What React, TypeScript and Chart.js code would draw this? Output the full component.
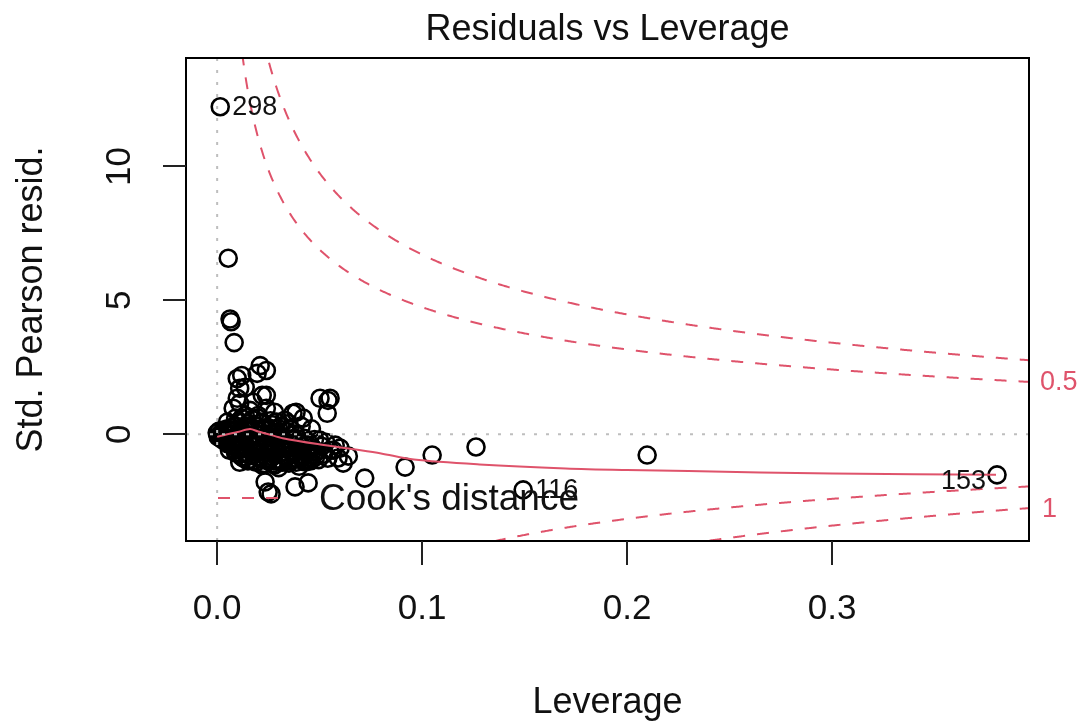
import React, { useEffect, useRef } from "react";
import { Chart, registerables } from "chart.js";

Chart.register(...registerables);

// ---- data ----
const leverage = [
  // outliers
  0.0015, 0.0054, 0.0063, 0.0068, 0.0083,
  // upper scatter
  0.021, 0.024, 0.0195, 0.0098, 0.012, 0.011, 0.0137, 0.024, 0.0098, 0.011, 0.0176, 0.024, 0.0078, 0.022, 0.016,
  0.0137, 0.02, 0.028, 0.033, 0.037, 0.042, 0.0537, 0.0385, 0.0502, 0.0541, 0.0551,
  0.005, 0.009, 0.018, 0.026, 0.031, 0.029, 0.035, 0.041, 0.046,
  // dense core, low leverage
  0.0, 0.001, 0.001, 0.002, 0.002, 0.003, 0.003, 0.004, 0.004, 0.005, 0.005, 0.006, 0.006, 0.007, 0.007, 0.008, 0.008,
  0.009, 0.009, 0.01, 0.01, 0.011, 0.011, 0.012, 0.012, 0.013, 0.013, 0.014, 0.014, 0.015, 0.015, 0.016, 0.016,
  0.017, 0.017, 0.018, 0.018, 0.019, 0.019, 0.02, 0.02,
  0.021, 0.021, 0.022, 0.022, 0.023, 0.023, 0.024, 0.024, 0.025, 0.025, 0.026, 0.026, 0.027, 0.027, 0.028, 0.028,
  0.029, 0.03, 0.03, 0.031, 0.032, 0.032, 0.033, 0.034, 0.034, 0.035, 0.036, 0.037, 0.038, 0.038, 0.039, 0.04,
  0.041, 0.042, 0.043, 0.044, 0.045,
  0.0005, 0.0015, 0.0025, 0.0035, 0.0045, 0.0055, 0.0065, 0.0075, 0.0085, 0.0095,
  0.0105, 0.0115, 0.0125, 0.0135, 0.0145, 0.0155, 0.0165, 0.0175, 0.0185, 0.0195,
  0.0205, 0.0215, 0.0225, 0.0235, 0.0245, 0.0255, 0.0265, 0.0275, 0.0285, 0.0295,
  0.0305, 0.0315, 0.0325, 0.0335, 0.0345, 0.0355, 0.0365, 0.0375, 0.0385, 0.0395,
  0.0405, 0.0415, 0.0425, 0.0435, 0.0445, 0.0455, 0.0465, 0.0475, 0.0485, 0.0495,
  0.051, 0.052, 0.053, 0.054, 0.055,
  0.006, 0.009, 0.012, 0.015, 0.019, 0.023, 0.027, 0.031, 0.035, 0.039, 0.044, 0.048,
  // right edge of the core
  0.0566, 0.059, 0.0615, 0.0576, 0.05, 0.047, 0.043, 0.06, 0.064,
  // lower scatter and high leverage
  0.011, 0.022, 0.03, 0.04, 0.0234, 0.0249, 0.0263, 0.038, 0.0444, 0.072, 0.0917, 0.1049, 0.1263, 0.2098, 0.1493,
  0.3805,
];

const stdResid = [
  12.23, 6.57, 4.3, 4.2, 3.42,
  2.56, 2.38, 2.27, 2.08, 2.19, 1.71, 1.75, 1.45, 1.34, 1.15, 1.19, 0.97, 0.97, 1.45, 0.89,
  0.7, 0.6, 0.82, 0.52, 0.78, 0.6, 0.78, 0.82, 1.34, 1.26, 1.34,
  0.45, 0.6, 0.35, 0.5, 0.3, 0.45, 0.4, 0.3, 0.2,
  0.05, -0.05, 0.12, -0.15, 0.02, 0.15, -0.1, -0.25, 0.05, 0.2, -0.35, -0.05, 0.1, -0.2, 0.25, -0.45, 0.0,
  -0.6, 0.3, -0.15, 0.45, -0.75, 0.1, -0.4, 0.6, -0.9, 0.2, -0.55, 0.0, 0.4, -0.25, -0.8, 0.15,
  -0.45, 0.55, -1.0, -0.1, 0.3, -0.65, -0.3, 0.7,
  -0.9, 0.1, -0.5, 0.45, -1.1, -0.2, -0.7, 0.25, -0.35, -1.0, 0.0, -0.6, -0.85, 0.35, -0.45, -1.15,
  -0.15, -0.75, 0.2, -0.5, -1.05, -0.25, -0.8, 0.1, -0.55, -1.0, -0.35, -0.7, -0.9, 0.0, -0.5, -0.2,
  -0.75, -1.0, -0.4, -0.6, -0.85,
  -0.1, 0.0, -0.2, 0.1, -0.3, 0.0, -0.4, 0.15, -0.25, -0.5,
  -0.3, -0.55, 0.05, -0.7, 0.3, -0.95, -0.15, -0.6, 0.2, -0.85,
  -0.05, -0.75, 0.2, -0.45, -0.9, 0.15, -0.3, -1.0, -0.6, 0.05,
  -0.95, -0.1, -0.65, -0.4, -0.85, 0.2, -0.6, -0.15, -1.05, -0.35,
  -0.55, -0.9, -0.15, -0.7, -0.3, -1.0, -0.5, -0.2, -0.65, -0.95,
  -0.45, -0.75, -0.3, -0.9, -0.6,
  -0.6, -0.7, -0.85, -1.0, -1.05, -0.95, -1.1, -0.98, -1.08, -0.92, -1.0, -0.85,
  -0.6, -0.89, -1.08, -0.41, -0.22, -0.78, -1.04, -0.52, -0.82,
  -1.05, -1.15, -1.25, -1.2, -1.78, -2.16, -2.23, -1.97, -1.82, -1.64, -1.23, -0.78, -0.48, -0.78, -2.08,
  -1.52,
];

// smoother (red solid line)
const smoothLev = [0.0, 0.005, 0.01, 0.016, 0.02, 0.025, 0.032, 0.049, 0.07, 0.08, 0.096, 0.128, 0.17, 0.2, 0.23, 0.3, 0.38];
const smoothRes = [-0.1, 0.0, 0.08, 0.19, 0.1, 0.0, -0.15, -0.37, -0.6, -0.72, -0.95, -1.13, -1.28, -1.34, -1.38, -1.47, -1.52];

// labelled observations
const idLabels = ["298", "116", "153"];
const idLev = [0.0015, 0.1493, 0.3805];
const idRes = [12.23, -2.08, -1.52];

// Cook's distance contours
const cookLevels = [0.5, 1];
const nParams = 5;

const xTicks = [0, 0.1, 0.2, 0.3];
const xTickLabels = ["0.0", "0.1", "0.2", "0.3"];
const yTicks = [0, 5, 10];
const yTickLabels = ["0", "5", "10"];

const X_MIN = -0.0152;
const X_MAX = 0.3961;
const Y_MIN = -3.99;
const Y_MAX = 14.05;

const RED = "#DF536B";
const FONT = '"Liberation Sans", Arial, Helvetica, sans-serif';

const decorPlugin = {
  id: "rDecor",
  afterDatasetsDraw(chart: any) {
    const { ctx, chartArea: a, scales } = chart;
    const x = scales.x;
    const y = scales.y;
    ctx.save();
    ctx.beginPath();
    ctx.rect(a.left, a.top, a.right - a.left, a.bottom - a.top);
    ctx.clip();

    // Cook's distance contours
    ctx.strokeStyle = RED;
    ctx.lineWidth = 2;
    ctx.setLineDash([12, 12]);
    const hStart = 0.004;
    const steps = 800;
    cookLevels.forEach((lv) => {
      [1, -1].forEach((s) => {
        ctx.beginPath();
        for (let i = 0; i <= steps; i++) {
          const h = hStart + ((X_MAX - hStart) * i) / steps;
          const v = s * Math.sqrt((lv * nParams * (1 - h)) / h);
          const px = x.getPixelForValue(h);
          const py = y.getPixelForValue(v);
          if (i === 0) ctx.moveTo(px, py);
          else ctx.lineTo(px, py);
        }
        ctx.stroke();
      });
    });

    // zero reference lines
    ctx.strokeStyle = "#BEBEBE";
    ctx.lineWidth = 2;
    ctx.setLineDash([3, 9]);
    const y0 = y.getPixelForValue(0);
    const x0 = x.getPixelForValue(0);
    ctx.beginPath();
    ctx.moveTo(a.left, y0);
    ctx.lineTo(a.right, y0);
    ctx.moveTo(x0, a.top);
    ctx.lineTo(x0, a.bottom);
    ctx.stroke();
    ctx.restore();
  },
  afterDraw(chart: any) {
    const { ctx, chartArea: a, scales } = chart;
    const x = scales.x;
    const y = scales.y;
    ctx.save();
    // box
    ctx.strokeStyle = "#000";
    ctx.lineWidth = 2;
    ctx.setLineDash([]);
    ctx.strokeRect(a.left, a.top, a.right - a.left, a.bottom - a.top);

    // ticks
    ctx.strokeStyle = "#222";
    ctx.beginPath();
    xTicks.forEach((v) => {
      const px = Math.round(x.getPixelForValue(v));
      ctx.moveTo(px, a.bottom);
      ctx.lineTo(px, a.bottom + 24);
    });
    yTicks.forEach((v) => {
      const py = Math.round(y.getPixelForValue(v));
      ctx.moveTo(a.left, py);
      ctx.lineTo(a.left - 23, py);
    });
    ctx.stroke();

    ctx.fillStyle = "#111";
    ctx.font = `35px ${FONT}`;
    ctx.textAlign = "center";
    ctx.textBaseline = "middle";
    xTicks.forEach((v, i) => {
      ctx.fillText(xTickLabels[i], x.getPixelForValue(v), a.bottom + 68);
    });
    yTicks.forEach((v, i) => {
      ctx.save();
      ctx.translate(a.left - 66, y.getPixelForValue(v));
      ctx.rotate(-Math.PI / 2);
      ctx.fillText(yTickLabels[i], 0, 0);
      ctx.restore();
    });

    // titles
    const cx = (a.left + a.right) / 2;
    ctx.font = `36px ${FONT}`;
    ctx.fillText("Residuals vs Leverage", cx, 30);
    ctx.fillText("Leverage", cx, 703);
    ctx.save();
    ctx.translate(32, (a.top + a.bottom) / 2);
    ctx.rotate(-Math.PI / 2);
    ctx.fillText("Std. Pearson resid.", 0, 0);
    ctx.restore();

    // legend
    ctx.strokeStyle = RED;
    ctx.lineWidth = 2;
    ctx.setLineDash([12, 12]);
    ctx.beginPath();
    ctx.moveTo(218, 498);
    ctx.lineTo(284, 498);
    ctx.stroke();
    ctx.setLineDash([]);
    ctx.textAlign = "left";
    ctx.font = `37px ${FONT}`;
    ctx.fillStyle = "#111";
    ctx.fillText("Cook's distance", 319, 500);

    // id labels
    ctx.font = `27px ${FONT}`;
    const midX = (X_MIN + X_MAX) / 2;
    idLabels.forEach((lab, i) => {
      const px = x.getPixelForValue(idLev[i]);
      const py = y.getPixelForValue(idRes[i]);
      if (idLev[i] < midX) {
        ctx.textAlign = "left";
        ctx.fillText(lab, px + 12, py + 1);
      } else {
        ctx.textAlign = "right";
        ctx.fillText(lab, px - 11, py + 7);
      }
    });

    // Cook level labels on right margin (overlapping ones skipped, as R does)
    ctx.fillStyle = RED;
    ctx.textAlign = "left";
    const mult = Math.sqrt((nParams * (1 - X_MAX)) / X_MAX);
    ctx.fillText(String(cookLevels[1]), a.right + 13, y.getPixelForValue(-Math.sqrt(cookLevels[1]) * mult) + 1);
    ctx.fillText(String(cookLevels[0]), a.right + 11, y.getPixelForValue(Math.sqrt(cookLevels[0]) * mult) + 1);
    ctx.restore();
  },
};

export default function App() {
  const ref = useRef<HTMLCanvasElement | null>(null);
  useEffect(() => {
    document.body.style.margin = "0";
    const canvas = ref.current;
    if (!canvas) return;
    const n = Math.min(leverage.length, stdResid.length);
    const pts = [];
    for (let i = 0; i < n; i++) pts.push({ x: leverage[i], y: stdResid[i] });
    const smooth = smoothLev.map((v, i) => ({ x: v, y: smoothRes[i] }));

    const chart = new Chart(canvas, {
      type: "scatter",
      data: {
        datasets: [
          {
            type: "line",
            data: smooth,
            borderColor: RED,
            borderWidth: 2,
            pointRadius: 0,
            showLine: true,
            fill: false,
            tension: 0.3,
            order: 1,
          } as any,
          {
            data: pts,
            pointStyle: "circle",
            pointRadius: 8.5,
            pointBorderWidth: 2.6,
            borderColor: "#000",
            backgroundColor: "rgba(0,0,0,0)",
            pointBackgroundColor: "rgba(0,0,0,0)",
            showLine: false,
            order: 2,
          },
        ],
      },
      options: {
        responsive: false,
        animation: false,
        events: [],
        layout: { padding: { left: 186, top: 58, right: 52, bottom: 180 } },
        plugins: { legend: { display: false }, tooltip: { enabled: false } },
        scales: {
          x: { type: "linear", min: X_MIN, max: X_MAX, display: false },
          y: { type: "linear", min: Y_MIN, max: Y_MAX, display: false },
        },
      },
      plugins: [decorPlugin],
    });
    return () => chart.destroy();
  }, []);

  return (
    <div style={{ position: "absolute", left: 0, top: 0, width: 1081, height: 721, background: "#fff" }}>
      <canvas ref={ref} width={1081} height={721} style={{ display: "block" }} />
    </div>
  );
}
